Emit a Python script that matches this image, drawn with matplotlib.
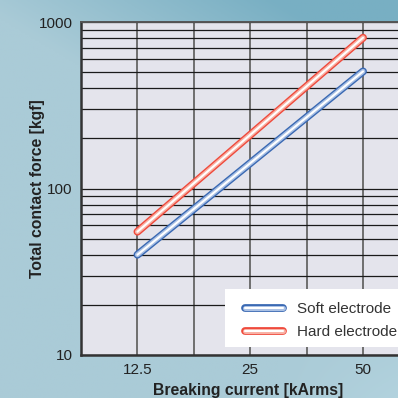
import numpy as np
import matplotlib
matplotlib.use("Agg")
import matplotlib.pyplot as plt
from matplotlib.lines import Line2D
from matplotlib.legend_handler import HandlerTuple
from matplotlib.patches import Rectangle
from matplotlib.colors import to_rgb

# ---- data ----
current = [12.5, 25, 50]            # Breaking current [kArms]
soft_force = [40, 142, 505]         # Soft electrode [kgf]
hard_force = [55, 210, 805]         # Hard electrode [kgf]
series_names = ["Soft electrode", "Hard electrode"]
x_ticks = [12.5, 25, 50]
x_tick_labels = ["12.5", "25", "50"]
y_ticks = [10, 100, 1000]
y_tick_labels = ["10", "100", "1000"]

plt.rcParams['font.family'] = ['Liberation Sans', 'DejaVu Sans']

W = H = 398
fig = plt.figure(figsize=(W / 100, H / 100), dpi=100)

# background gradient
bg = fig.add_axes([0, 0, 1, 1], zorder=-10)
yy, xx = np.mgrid[0:1:200j, 0:1:200j]
base = np.array(to_rgb("#aacbd7"))
dark = np.array(to_rgb("#78afc3"))
light = np.array(to_rgb("#bcdbe6"))
t = np.clip((xx - 0.35) * 1.3 + (0.25 - yy) * 2.2, 0, 1)[..., None]
img = base * (1 - t) + dark * t
t2 = np.clip((xx - 0.7) * 2.5 * np.clip((yy - 0.8) * 5, 0, 1), 0, 1)[..., None]
img = img * (1 - 0.6 * t2) + light * 0.6 * t2
bg.imshow(img, extent=[0, 1, 0, 1], aspect="auto")
bg.axis("off")

left, right, top, bottom = 81, 398, 22, 355
ax = fig.add_axes([left / W, 1 - bottom / H, (right - left) / W, (bottom - top) / H])
ax.set_facecolor("#e4e4ec")
ax.set_xscale("log", base=2)
ax.set_yscale("log")

ax.set_xticks(x_ticks)
ax.set_xticklabels(x_tick_labels)
ax.set_xticks([12.5 * np.sqrt(2), 25 * np.sqrt(2)], minor=True)
ax.set_yticks(y_ticks)
ax.set_yticklabels(y_tick_labels)
ax.set_xlim(12.5 / np.sqrt(2), 50 * 2 ** ((398 - 363) / 113))
ax.set_ylim(10, 1000)
ax.tick_params(axis="both", which="both", length=0, labelsize=11, colors="#222222", pad=6)
ax.tick_params(axis="x", which="minor", labelbottom=False)
ax.yaxis.set_minor_formatter(matplotlib.ticker.NullFormatter())

ax.grid(True, axis="x", which="both", color="#6e6e6e", linewidth=1.4, zorder=1)
ax.grid(True, axis="y", which="both", color="#1a1a1a", linewidth=0.9, zorder=1)
ax.set_axisbelow(True)

for s in ["left", "bottom"]:
    ax.spines[s].set_color("#333333")
    ax.spines[s].set_linewidth(1.8)
ax.spines["top"].set_color("#555555")
ax.spines["top"].set_linewidth(1.4)
ax.spines["right"].set_visible(False)

LW = (5.6, 3.6, 1.5)


def tube(x, y, outer, mid):
    kw = dict(solid_capstyle="round", zorder=5)
    ax.plot(x, y, color=outer, lw=LW[0], **kw)
    ax.plot(x, y, color=mid, lw=LW[1], **kw)
    ax.plot(x, y, color="white", lw=LW[2], **kw)


soft_cols = ("#3a69b3", "#a9c0e4")
hard_cols = ("#ef4a3c", "#f8b0a4")
tube(current, soft_force, *soft_cols)
tube(current, hard_force, *hard_cols)


def handle(cols):
    return tuple(Line2D([], [], color=c, lw=lw, solid_capstyle="round")
                 for c, lw in zip((cols[0], cols[1], "white"), LW))


# white legend box
box = Rectangle((225 / W, 1 - 347 / H), (398 - 225) / W, 58 / H,
                transform=fig.transFigure, facecolor="white", edgecolor="none",
                zorder=8)
ax.add_artist(box)
box.set_clip_on(False)

leg = ax.legend([handle(soft_cols), handle(hard_cols)], series_names,
                handler_map={tuple: HandlerTuple(ndivide=1)},
                loc="upper left", bbox_to_anchor=(245 / W, 1 - 302 / H),
                bbox_transform=fig.transFigure, frameon=False,
                fontsize=11, handlelength=2.5, handletextpad=0.88,
                borderpad=0, borderaxespad=0, labelspacing=0.6)
for txt in leg.get_texts():
    txt.set_color("#333333")
leg.set_zorder(10)

fig.text(248 / W, 1 - 391 / H, "Breaking current [kArms]", ha="center", va="center",
         fontsize=11.3, fontweight="bold", color="#222222")
fig.text(38 / W, 1 - 189 / H, "Total contact force [kgf]", ha="center", va="center",
         rotation=90, fontsize=11.3, fontweight="bold", color="#222222")

fig.savefig("out.png", dpi=100)
